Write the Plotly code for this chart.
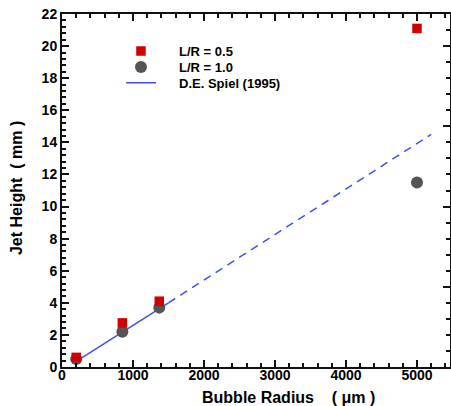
import plotly.graph_objects as go

radius_05 = [200, 850, 1370, 5000]
height_05 = [0.6, 2.75, 4.1, 21.1]
radius_10 = [200, 850, 1370, 5000]
height_10 = [0.5, 2.2, 3.7, 11.5]
spiel_x_solid = [200, 1500]
spiel_y_solid = [0.35, 4.0]
spiel_x_dash = [1500, 5200]
spiel_y_dash = [4.0, 14.5]

FONT = "Liberation Sans"
BLUE = "#4050f0"
NB = "\u00a0" * 5

fig = go.Figure()
fig.add_trace(go.Scatter(x=spiel_x_solid, y=spiel_y_solid, mode="lines", name=NB + "D.E. Spiel (1995)",
                         legend="legend3", line=dict(color=BLUE, width=1.5)))
fig.add_trace(go.Scatter(x=spiel_x_dash, y=spiel_y_dash, mode="lines", showlegend=False,
                         line=dict(color=BLUE, width=1.5, dash="8px,6px")))
fig.add_trace(go.Scatter(x=radius_10, y=height_10, mode="markers", name=NB + "L/R = 1.0",
                         legend="legend2", marker=dict(symbol="circle", size=12, color="#555555")))
fig.add_trace(go.Scatter(x=radius_05, y=height_05, mode="markers", name=NB + "L/R = 0.5",
                         legend="legend", marker=dict(symbol="square", size=9.5, color="#d00000")))

tickfont = dict(family=FONT, size=14, color="black", weight="bold")
axis_common = dict(showline=True, linecolor="#111111", linewidth=2,
                   ticks="inside", ticklen=7, tickwidth=1.5, tickcolor="#111111",
                   showgrid=False, zeroline=False, automargin=False,
                   ticklabeloverflow="allow", tickfont=tickfont)
fig.update_xaxes(range=[0, 5465], tick0=0, dtick=1000, mirror="ticks", ticklabelstandoff=-6,
                 minor=dict(ticks="inside", ticklen=4, dtick=200, tickcolor="#111111"),
                 **axis_common)
fig.update_yaxes(range=[0, 22], tick0=0, dtick=2, mirror=False,
                 minor=dict(ticks="inside", ticklen=4, dtick=0.4, tickcolor="#111111"),
                 **axis_common)
fig.update_layout(
    yaxis2=dict(overlaying="y", side="right", range=[0, 22], tick0=0, dtick=5,
                showticklabels=False, showline=True, linecolor="#111111", linewidth=2,
                ticks="inside", ticklen=7, tickwidth=1.5, tickcolor="#111111",
                minor=dict(ticks="inside", ticklen=4, dtick=1, tickcolor="#111111"),
                showgrid=False, zeroline=False),
)
# invisible helper trace so yaxis2 is drawn
fig.add_trace(go.Scatter(x=[None], y=[None], yaxis="y2", showlegend=False, hoverinfo="skip"))

title_font = dict(family=FONT, size=16, color="black", weight="bold")
fig.add_annotation(text="Bubble Radius\u00a0\u00a0\u00a0\u00a0( μm )", xref="paper", yref="paper",
                   x=0.585, y=0, yshift=-30, xanchor="center", yanchor="middle",
                   showarrow=False, font=title_font)
fig.add_annotation(text="Jet Height\u00a0\u00a0( mm )", xref="paper", yref="paper",
                   x=0, y=0.507, xshift=-46, xanchor="center", yanchor="middle",
                   textangle=-90, showarrow=False, font=title_font)

legfont = dict(family=FONT, size=13, color="black", weight="bold")
common_leg = dict(xanchor="left", yanchor="middle", bgcolor="rgba(0,0,0,0)",
                  borderwidth=0, font=legfont)
fig.update_layout(
    width=451, height=406,
    margin=dict(l=62, r=1, t=14, b=39),
    plot_bgcolor="white", paper_bgcolor="white",
    legend=dict(x=0.152, y=0.895, **common_leg),
    legend2=dict(x=0.152, y=0.85, **common_leg),
    legend3=dict(x=0.152, y=0.805, **common_leg),
)
fig.write_html("out.html", config={"displayModeBar": False},
               post_script="document.body.style.margin='0';document.body.style.overflow='hidden';")
